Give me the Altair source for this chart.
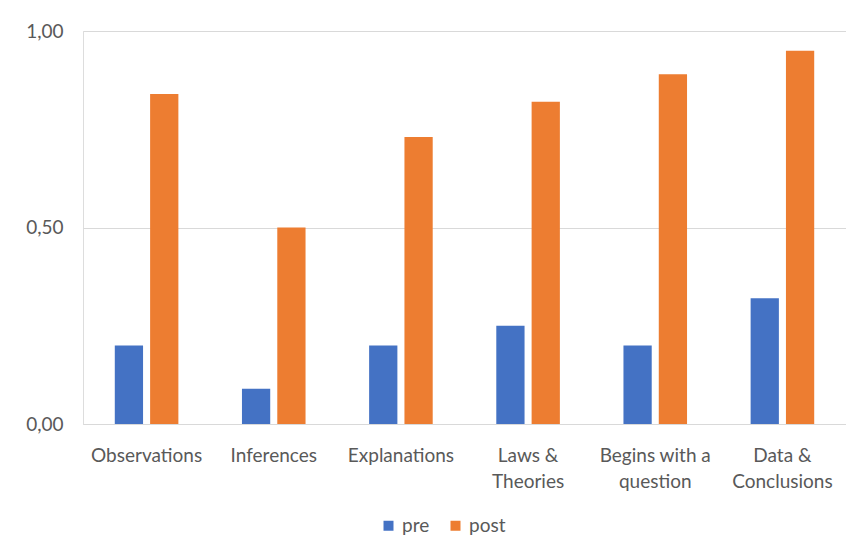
import altair as alt
import pandas as pd

categories = ["Observations", "Inferences", "Explanations", "Laws & Theories",
              "Begins with a question", "Data & Conclusions"]
label_lines = {
    "Laws & Theories": ["Laws &", "Theories"],
    "Begins with a question": ["Begins with a", "question"],
    "Data & Conclusions": ["Data &", "Conclusions"],
}
series = ["pre", "post"]
pre_values = [0.20, 0.09, 0.20, 0.25, 0.20, 0.32]
post_values = [0.84, 0.50, 0.73, 0.82, 0.89, 0.95]
colors = ["#4472C4", "#ED7D31"]
y_ticks = [0, 0.5, 1.0]

rows = []
for c, a, b in zip(categories, pre_values, post_values):
    rows.append({"category": c, "series": "pre", "value": a})
    rows.append({"category": c, "series": "post", "value": b})
df = pd.DataFrame(rows)

expr = "datum.label"
for k, v in label_lines.items():
    expr = f"datum.label == '{k}' ? {v!r} : (" + expr + ")"

font = "Lato"
fs = 19
chart = alt.Chart(df).mark_bar().encode(
    x=alt.X("category:N", sort=categories, title=None,
            scale=alt.Scale(paddingInner=0.5, paddingOuter=0.25),
            axis=alt.Axis(labelAngle=0, labelExpr=expr, ticks=False,
                          domainColor="#d9d9d9", labelFont=font, labelFontSize=fs,
                          labelColor="#595959", labelPadding=31, labelLineHeight=26,
                          labelBaseline="middle")),
    xOffset=alt.XOffset("series:N", sort=series, scale=alt.Scale(paddingInner=0.2)),
    y=alt.Y("value:Q", title=None, scale=alt.Scale(domain=[0, 1]),
            axis=alt.Axis(values=y_ticks, labelExpr="replace(format(datum.value, '.2f'), '.', ',')",
                          domain=False, ticks=False, gridColor="#d9d9d9",
                          labelFont=font, labelFontSize=fs, labelColor="#595959",
                          labelPadding=20, minExtent=75, maxExtent=75)),
    color=alt.Color("series:N", sort=series, scale=alt.Scale(domain=series, range=colors),
                    legend=alt.Legend(title=None, orient="none", direction="horizontal",
                                      legendX=296, legendY=485, symbolType="square",
                                      symbolSize=100, symbolStrokeWidth=0,
                                      labelFont=font, labelFontSize=fs, labelColor="#595959",
                                      columnPadding=16, labelOffset=4)),
).properties(
    width=763, height=393,
    padding={"left": 0, "top": 14, "right": 0, "bottom": 4},
).configure_view(strokeWidth=0).configure(background="white")

chart.save("out.html", embed_options={"renderer": "svg", "actions": False})
